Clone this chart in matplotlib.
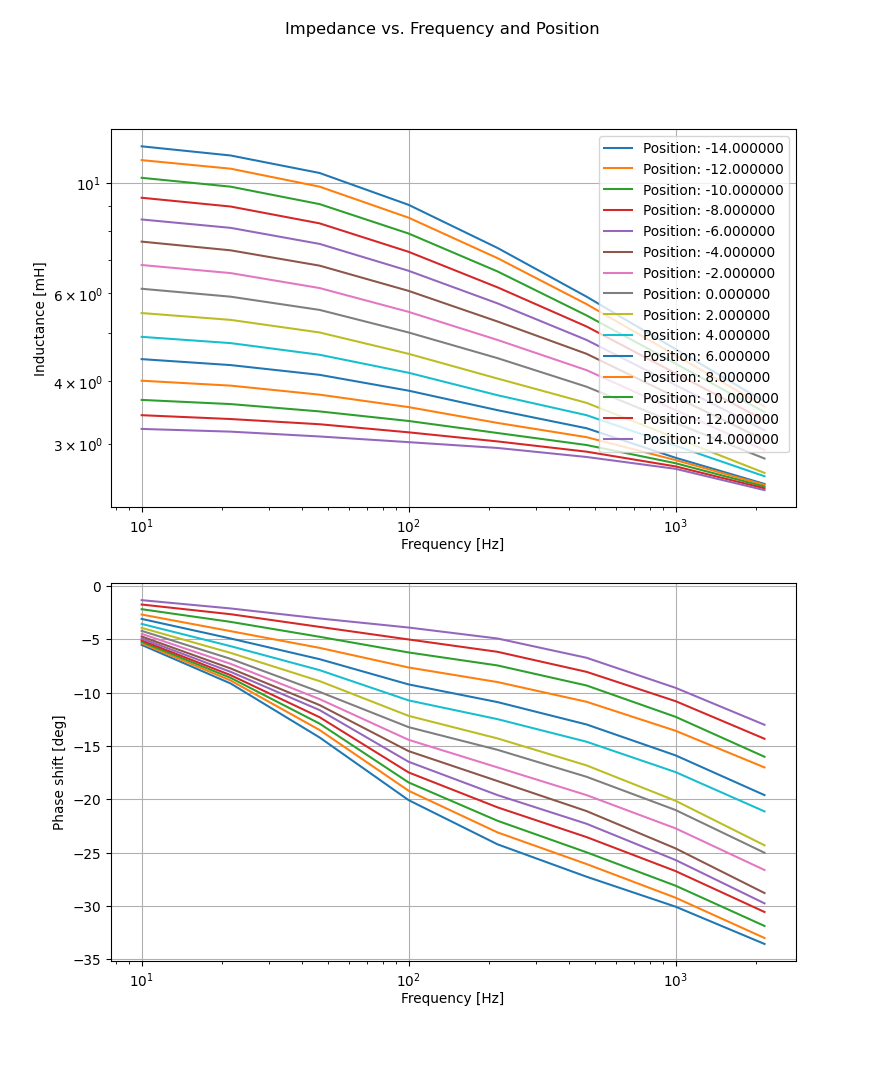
import matplotlib
matplotlib.use("Agg")
import matplotlib.pyplot as plt


# frequency points [Hz]
frequencies = [10.0, 21.54, 46.42, 100.0, 215.4, 464.2, 1000.0, 2154.4]

# coil positions
positions = [-14, -12, -10, -8, -6, -4, -2, 0, 2, 4, 6, 8, 10, 12, 14]

# inductance [mH], one row per position
inductance = [
    [11.83, 11.34, 10.46, 9.03, 7.40, 5.91, 4.64, 3.64],
    [11.10, 10.67, 9.82, 8.51, 7.06, 5.71, 4.51, 3.56],
    [10.23, 9.82, 9.06, 7.91, 6.64, 5.42, 4.34, 3.47],
    [9.33, 8.96, 8.29, 7.27, 6.17, 5.15, 4.15, 3.34],
    [8.44, 8.12, 7.54, 6.66, 5.73, 4.84, 3.93, 3.19],
    [7.62, 7.32, 6.82, 6.07, 5.27, 4.54, 3.72, 3.05],
    [6.84, 6.59, 6.15, 5.51, 4.84, 4.21, 3.50, 2.91],
    [6.13, 5.91, 5.56, 5.01, 4.45, 3.90, 3.30, 2.80],
    [5.48, 5.31, 5.01, 4.54, 4.05, 3.62, 3.08, 2.62],
    [4.91, 4.77, 4.52, 4.16, 3.75, 3.42, 2.97, 2.58],
    [4.43, 4.31, 4.12, 3.83, 3.50, 3.22, 2.81, 2.49],
    [4.01, 3.92, 3.76, 3.55, 3.30, 3.09, 2.78, 2.48],
    [3.67, 3.60, 3.48, 3.33, 3.15, 2.98, 2.74, 2.46],
    [3.42, 3.36, 3.28, 3.16, 3.03, 2.89, 2.70, 2.44],
    [3.21, 3.17, 3.10, 3.02, 2.94, 2.82, 2.67, 2.42],
]

# phase shift [deg], one row per position
phase = [
    [-5.51, -9.13, -14.2, -20.08, -24.23, -27.27, -30.08, -33.58],
    [-5.35, -8.85, -13.5, -19.2, -23.11, -26.08, -29.24, -33.02],
    [-5.22, -8.6, -12.9, -18.42, -22.02, -24.98, -28.11, -31.89],
    [-5.09, -8.35, -12.3, -17.48, -20.76, -23.55, -26.74, -30.58],
    [-4.91, -8.04, -11.63, -16.48, -19.61, -22.3, -25.7, -29.77],
    [-4.72, -7.72, -11.16, -15.48, -18.29, -21.11, -24.61, -28.8],
    [-4.47, -7.29, -10.6, -14.42, -17.01, -19.61, -22.73, -26.64],
    [-4.19, -6.82, -9.92, -13.23, -15.36, -17.89, -21.01, -25.02],
    [-3.91, -6.26, -8.91, -12.17, -14.29, -16.82, -20.14, -24.32],
    [-3.54, -5.63, -7.88, -10.72, -12.48, -14.6, -17.45, -21.14],
    [-3.07, -4.91, -6.85, -9.22, -10.88, -12.98, -15.88, -19.61],
    [-2.66, -4.22, -5.79, -7.63, -9.0, -10.85, -13.57, -17.01],
    [-2.16, -3.35, -4.75, -6.22, -7.44, -9.32, -12.26, -16.01],
    [-1.72, -2.63, -3.82, -5.0, -6.16, -8.04, -10.79, -14.32],
    [-1.31, -2.09, -3.03, -3.88, -4.91, -6.72, -9.54, -13.01],
]


fig, (ax_l, ax_p) = plt.subplots(2, 1, figsize=(9, 11), dpi=98.23)
fig.suptitle("Impedance vs. Frequency and Position")

for pos, row in zip(positions, inductance):
    ax_l.loglog(frequencies, row, label="Position: %f" % pos)
ax_l.set_xlabel("Frequency [Hz]", labelpad=1.5)
ax_l.set_ylabel("Inductance [mH]")
ax_l.grid(True)
ax_l.legend(loc="upper right")

for pos, row in zip(positions, phase):
    ax_p.semilogx(frequencies, row, label="Position: %f" % pos)
ax_p.set_xlabel("Frequency [Hz]", labelpad=1.5)
ax_p.set_ylabel("Phase shift [deg]")
ax_p.grid(True)

plt.savefig("out.png", dpi=98.23)
plt.close()
